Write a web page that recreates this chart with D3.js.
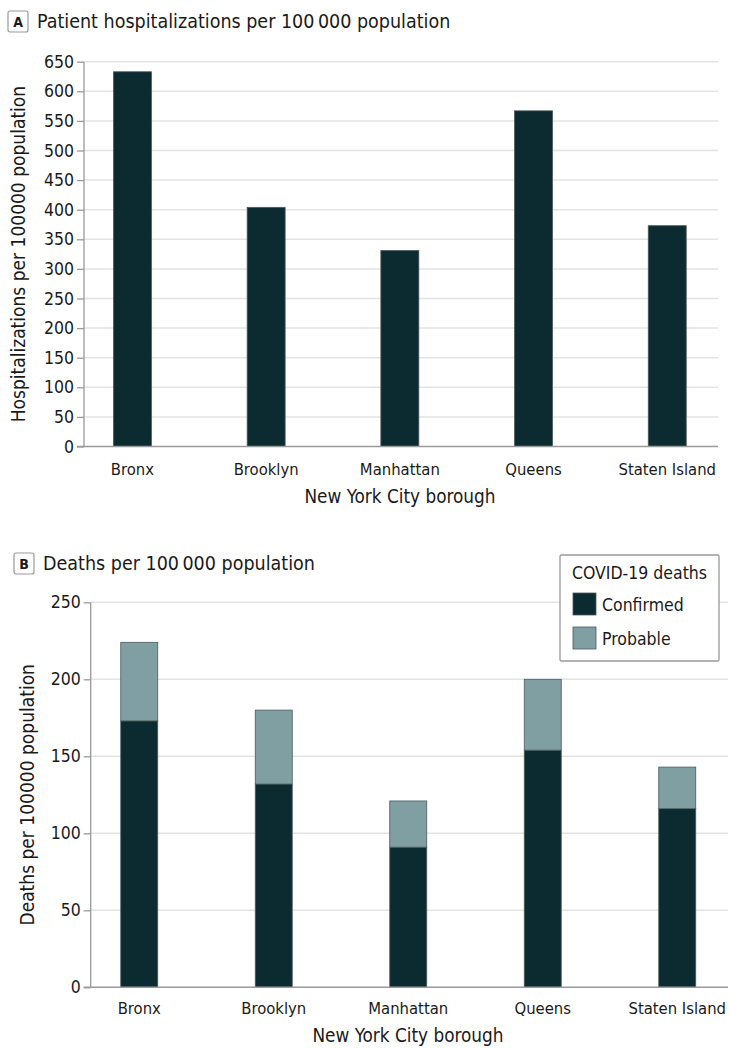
<!DOCTYPE html>
<html>
<head>
<meta charset="utf-8">
<script src="https://cdn.jsdelivr.net/npm/d3@7/dist/d3.min.js"></script>
<style>
  html, body { margin: 0; padding: 0; background: #fff; }
  svg text { font-family: "DejaVu Sans Condensed", "Liberation Sans Narrow", sans-serif; fill: #1a1a1a; }
</style>
</head>
<body>
<svg id="chart" width="730" height="1048"></svg>
<script>
// === Data ===
const boroughs = ["Bronx", "Brooklyn", "Manhattan", "Queens", "Staten Island"];
// panel A: hospitalizations per 100 000
const hospRates = [633, 404, 331, 567, 373];
const hospTicks = [0, 50, 100, 150, 200, 250, 300, 350, 400, 450, 500, 550, 600, 650];
// panel B: deaths per 100 000, stacked
const confirmedDeaths = [173, 132, 91, 154, 116];
const probableDeaths = [51, 48, 30, 46, 27];
const deathTicks = [0, 50, 100, 150, 200, 250];
const deathSeries = ["Confirmed", "Probable"];

const DARK = "#0c2b30";
const LIGHT = "#7f9fa3";
const AXIS = "#9a9a9a";
const GRID = "#e3e3e3";

const svg = d3.select("#chart");

// small boxed panel letter + heading
function panelHeading(letter, text, x, y) {
  const g = svg.append("g").attr("transform", `translate(${x},${y})`);
  g.append("rect")
    .attr("x", 0).attr("y", 0)
    .attr("width", 20).attr("height", 21)
    .attr("rx", 2)
    .attr("fill", "#fff")
    .attr("stroke", "#999")
    .attr("stroke-width", 1.2);
  g.append("text")
    .attr("x", 10).attr("y", 16)
    .attr("text-anchor", "middle")
    .attr("font-size", 14)
    .attr("font-weight", "bold")
    .text(letter);
  g.append("text")
    .attr("x", 29).attr("y", 17)
    .attr("font-size", 19.5)
    .text(text);
}

/** Axes, grid and y title shared by both panels */
function drawFrame(y, ticks, axisX, gridEnd, yTitle, yTitleX) {
  // gridlines
  svg.append("g")
    .selectAll("line")
    .data(ticks.filter(t => t > 0))
    .join("line")
    .attr("x1", axisX).attr("x2", gridEnd)
    .attr("y1", d => y(d)).attr("y2", d => y(d))
    .attr("stroke", GRID)
    .attr("stroke-width", 1.5);

  // y axis
  const ax = svg.append("g")
    .attr("transform", `translate(${axisX},0)`)
    .call(d3.axisLeft(y).tickValues(ticks).tickSize(7).tickPadding(3));
  ax.select(".domain").attr("stroke", AXIS).attr("stroke-width", 1.3)
    .attr("d", `M0,${y(0)}V${y(ticks[ticks.length - 1])}`);
  ax.selectAll(".tick line").attr("stroke", AXIS).attr("stroke-width", 1.3);
  ax.selectAll(".tick text")
    .attr("font-size", 17.5)
    .attr("font-family", "\"DejaVu Sans Condensed\", sans-serif")
    .attr("fill", "#1a1a1a");

  const [r0, r1] = y.range();
  svg.append("text")
    .attr("transform", `translate(${yTitleX},${(r0 + r1) / 2}) rotate(-90)`)
    .attr("text-anchor", "middle")
    .attr("font-size", 19)
    .text(yTitle);
}

function drawBaseline(y0, axisX, gridEnd) {
  svg.append("line")
    .attr("x1", axisX - 7).attr("x2", gridEnd)
    .attr("y1", y0).attr("y2", y0)
    .attr("stroke", AXIS)
    .attr("stroke-width", 1.5);
}

function drawXLabels(x, labelY, titleY, titleX) {
  svg.append("g")
    .selectAll("text")
    .data(boroughs)
    .join("text")
    .attr("x", d => x(d) + x.bandwidth() / 2)
    .attr("y", labelY)
    .attr("text-anchor", "middle")
    .attr("font-size", 16.5)
    .text(d => d);
  svg.append("text")
    .attr("x", titleX).attr("y", titleY)
    .attr("text-anchor", "middle")
    .attr("font-size", 18.8)
    .text("New York City borough");
}

/* ===================== PANEL A ===================== */
panelHeading("A", "Patient hospitalizations per 100\u2009000 population", 8, 11);

const yA = d3.scaleLinear().domain([0, 650]).range([446.5, 61.7]);
const xA = d3.scaleBand().domain(boroughs)
  .range([65.6, 734.1]).paddingInner(0.716).paddingOuter(0.358);

drawFrame(yA, hospTicks, 84, 718, "Hospitalizations per 100000 population", 25);

svg.append("g")
  .selectAll("rect")
  .data(boroughs.map((b, i) => ({ b, v: hospRates[i] })))
  .join("rect")
  .attr("x", d => xA(d.b))
  .attr("width", xA.bandwidth())
  .attr("y", d => yA(d.v))
  .attr("height", d => yA(0) - yA(d.v))
  .attr("fill", DARK)
  .attr("stroke", "#4a5a5c")
  .attr("stroke-width", 0.8);

drawBaseline(yA(0), 84, 718);
drawXLabels(xA, 475, 503, 400);

/* ===================== PANEL B ===================== */
panelHeading("B", "Deaths per 100\u2009000 population", 14, 553);

const yB = d3.scaleLinear().domain([0, 250]).range([987.3, 602.3]);
const xB = d3.scaleBand().domain(boroughs)
  .range([72, 744.5]).paddingInner(0.725).paddingOuter(0.3625);

drawFrame(yB, deathTicks, 90.7, 728, "Deaths per 100000 population", 34);

const deathRows = boroughs.map((b, i) => ({ b, Confirmed: confirmedDeaths[i], Probable: probableDeaths[i] }));
const stacked = d3.stack().keys(deathSeries)(deathRows);
const colorB = d3.scaleOrdinal().domain(deathSeries).range([DARK, LIGHT]);

svg.append("g")
  .selectAll("g")
  .data(stacked)
  .join("g")
  .attr("fill", d => colorB(d.key))
  .selectAll("rect")
  .data(d => d)
  .join("rect")
  .attr("x", d => xB(d.data.b))
  .attr("width", xB.bandwidth())
  .attr("y", d => yB(d[1]))
  .attr("height", d => yB(d[0]) - yB(d[1]))
  .attr("stroke", "#4a5a5c")
  .attr("stroke-width", 0.8);

drawBaseline(yB(0), 90.7, 728);
drawXLabels(xB, 1014, 1042, 408);

// legend
const leg = svg.append("g").attr("transform", "translate(560,555)");
leg.append("rect")
  .attr("width", 159).attr("height", 106)
  .attr("fill", "#fff")
  .attr("stroke", "#999")
  .attr("stroke-width", 1.3)
  .attr("rx", 1.5);
leg.append("text")
  .attr("x", 12).attr("y", 24)
  .attr("font-size", 17.5)
  .text("COVID-19 deaths");
deathSeries.forEach((k, i) => {
  leg.append("rect")
    .attr("x", 13).attr("y", 38 + i * 34)
    .attr("width", 23).attr("height", 22)
    .attr("fill", colorB(k))
    .attr("stroke", "#4a5a5c")
    .attr("stroke-width", 0.8);
  leg.append("text")
    .attr("x", 42).attr("y", 56 + i * 34)
    .attr("font-size", 17.5)
    .text(k);
});
</script>
</body>
</html>
